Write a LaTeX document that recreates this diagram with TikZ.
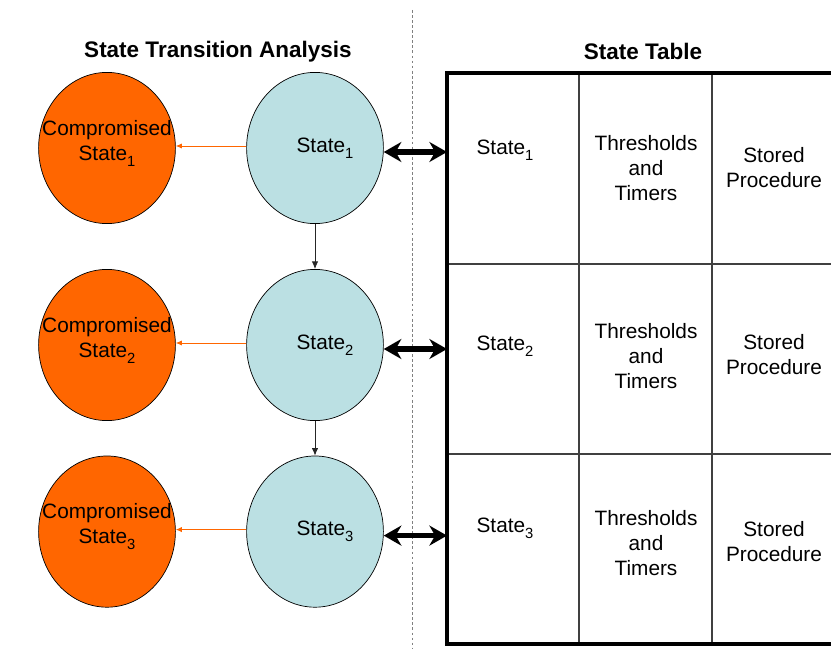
\documentclass[tikz,border=0pt]{standalone}
\usepackage{fontspec}
\setmainfont{Liberation Sans}
\usetikzlibrary{shapes.geometric,arrows.meta}
\definecolor{stateblue}{RGB}{187,224,227}
\definecolor{comporange}{RGB}{255,102,0}
\newcommand{\lowidx}[1]{\raisebox{-0.55ex}{\fontsize{10.5}{11}\selectfont #1}}

\begin{document}
\begin{tikzpicture}[
    stateell/.style={
      ellipse, draw, fill=stateblue, line width=0.5pt,
      minimum width=3.42cm, minimum height=3.78cm, inner sep=0pt
    },
    compell/.style={stateell, fill=comporange},
    txt/.style={align=center, font=\fontsize{14.8}{17.8}\selectfont},
    heading/.style={font=\fontsize{16}{19}\selectfont\bfseries},
    grid/.style={line width=1pt, black!75},
    frame/.style={draw, line width=2.4pt, inner sep=0pt, outer sep=0pt},
    >={Latex[length=1.9mm,width=1.6mm]}, % arrowheads
    arrow/.style={->, line width=0.6pt, black!85},
    fail/.style={-{Latex[length=1.5mm,width=1.3mm]}, line width=0.6pt, comporange},
    link/.style={{Stealth[length=4.4mm,width=5mm]}-{Stealth[length=4.4mm,width=5mm]}, line width=3.6pt},
  ]

  % page size (reference proportions)
  \useasboundingbox (0,0) rectangle (20.775,-16.225);

  % Headings
  \node[heading] (lefttitle)  at (5.45,-1.29)   {State Transition Analysis};
  \node[heading] (righttitle) at (16.075,-1.29) {State Table};

  % Divider between the two halves
  \coordinate (divtop) at (10.3,-0.25);
  \coordinate (divbot) at (10.3,-16.225);
  \draw[gray, line width=0.6pt, dash pattern=on 2pt off 1.6pt] (divtop) -- (divbot);

  % States (middle column)
  \node[stateell] (s1) at (7.875,-3.7)   {};
  \node[stateell] (s2) at (7.875,-8.625) {};
  \node[stateell] (s3) at (7.875,-13.29) {};
  \node[txt] (s1t) at ([xshift=0.25cm]s1) {State\lowidx{1}};
  \node[txt] (s2t) at ([xshift=0.25cm]s2) {State\lowidx{2}};
  \node[txt] (s3t) at ([xshift=0.25cm]s3) {State\lowidx{3}};

  % Compromised states (left column)
  \node[compell] (c1) at (2.675,-3.7)   {};
  \node[compell] (c2) at (2.675,-8.625) {};
  \node[compell] (c3) at (2.675,-13.29) {};
  \node[txt] (c1t) at ([yshift=0.12cm]c1) {Compromised\\State\lowidx{1}};
  \node[txt] (c2t) at ([yshift=0.12cm]c2) {Compromised\\State\lowidx{2}};
  \node[txt] (c3t) at ([yshift=0.12cm]c3) {Compromised\\State\lowidx{3}};

  % Transitions down the chain
  \draw[arrow] (s1.south) -- (s2.north);
  \draw[arrow] (s2.south) -- (s3.north);

  % State -> compromised state
  \draw[fail] ([yshift=0.05cm]s1.west) -- ([yshift=0.05cm]c1.east);
  \draw[fail] ([yshift=0.05cm]s2.west) -- ([yshift=0.05cm]c2.east);
  \draw[fail] ([yshift=0.05cm]s3.west) -- ([yshift=0.05cm]c3.east);

  % State table: inner lines first, thick frame on top (runs off the right edge)
  \draw[grid] (14.475,-1.825) -- (14.475,-16.1);
  \draw[grid] (17.8,-1.825) -- (17.8,-16.1);
  \draw[grid] (11.175,-6.6) -- (21.3,-6.6);
  \draw[grid] (11.175,-11.35) -- (21.3,-11.35);
  \node[frame, anchor=north west, minimum width=10.1cm, minimum height=14.275cm] (tab) at (11.175,-1.825) {};

  % Row 1
  \node[txt] (r1a) at (12.625,-3.75)  {State\lowidx{1}};
  \node[txt] (r1b) at (16.15,-4.2)    {Thresholds\\and\\Timers};
  \node[txt] (r1c) at (19.35,-4.18)   {Stored\\Procedure};
  % Row 2
  \node[txt] (r2a) at (12.625,-8.65)  {State\lowidx{2}};
  \node[txt] (r2b) at (16.15,-8.9)    {Thresholds\\and\\Timers};
  \node[txt] (r2c) at (19.35,-8.86)   {Stored\\Procedure};
  % Row 3
  \node[txt] (r3a) at (12.625,-13.2)  {State\lowidx{3}};
  \node[txt] (r3b) at (16.15,-13.58)  {Thresholds\\and\\Timers};
  \node[txt] (r3c) at (19.35,-13.55)  {Stored\\Procedure};

  % Links between states and their table rows
  \draw[link] ([yshift=-0.1cm]s1.east) -- ([yshift=-0.1cm]s1.east -| tab.west);
  \draw[link] ([yshift=-0.1cm]s2.east) -- ([yshift=-0.1cm]s2.east -| tab.west);
  \draw[link] ([yshift=-0.1cm]s3.east) -- ([yshift=-0.1cm]s3.east -| tab.west);

\end{tikzpicture}
\end{document}
